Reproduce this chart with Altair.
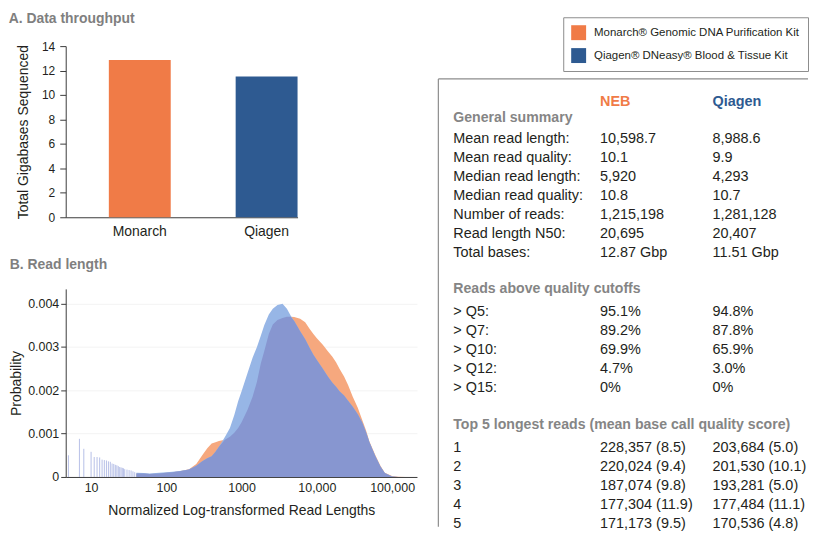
import altair as alt
import pandas as pd

FONT = "Liberation Sans"
ORANGE = "#F07B47"
NAVY = "#2E5A91"
H_ORANGE = "#F6A87E"
H_BLUE = "#97B6E6"
H_BOTH = "#8796D0"
SPIKE = "#8F9DDA"
GREY_TITLE = "#7F7F7F"
TEXT = "#231F20"
AXIS = "#3A3A3A"
FRAME = "#8C8C8C"

# ---------------- Panel A: data throughput ----------------
kits = ["Monarch", "Qiagen"]
gigabases = [12.87, 11.51]
kit_names = ["Monarch® Genomic DNA Purification Kit", "Qiagen® DNeasy® Blood & Tissue Kit"]

# ---------------- Panel B: read length histogram ----------------
read_length = [40, 50, 60, 80, 100, 120, 150, 200, 250, 300, 350, 400, 450, 500, 600, 700,
               800, 900, 1000, 1200, 1400, 1600, 1800, 2000, 2300, 2600, 3000, 3500, 4000,
               4500, 5000, 6000, 7000, 8000, 9000, 10000, 12000, 14000, 16000, 18000, 20000,
               23000, 26000, 30000, 35000, 40000, 45000, 50000, 60000, 70000, 80000, 100000,
               120000, 150000, 200000]
prob_neb = [0.00008, 0.00008, 0.00007, 0.00008, 0.00010, 0.00011, 0.00013, 0.00018, 0.00030,
            0.00050, 0.00066, 0.00077, 0.00080, 0.00083, 0.00086, 0.00093, 0.00102, 0.00113,
            0.00126, 0.00155, 0.00185, 0.00220, 0.00262, 0.00290, 0.00330, 0.00352, 0.00362,
            0.00367, 0.00370, 0.00370, 0.00369, 0.00365, 0.00357, 0.00342, 0.00330, 0.00320,
            0.00305, 0.00290, 0.00278, 0.00265, 0.00250, 0.00232, 0.00212, 0.00185, 0.00160,
            0.00132, 0.00108, 0.00082, 0.00050, 0.00026, 0.00010, 0.00002, 0.000005, 0.0, 0.0]
prob_qiagen = [0.00010, 0.00009, 0.00008, 0.00010, 0.00011, 0.00012, 0.00014, 0.00017, 0.00026,
               0.00036, 0.00043, 0.00048, 0.00058, 0.00070, 0.00092, 0.00113, 0.00143, 0.00175,
               0.00198, 0.00240, 0.00275, 0.00300, 0.00326, 0.00350, 0.00375, 0.00388, 0.00397,
               0.00400, 0.00388, 0.00372, 0.00360, 0.00336, 0.00318, 0.00298, 0.00282, 0.00270,
               0.00250, 0.00232, 0.00218, 0.00208, 0.00198, 0.00188, 0.00176, 0.00162, 0.00145,
               0.00126, 0.00104, 0.00080, 0.00048, 0.00024, 0.00009, 0.00001, 0.0, 0.0, 0.0]
short_read_length = [5, 7, 8, 10, 11, 12, 13, 14, 15, 16, 17, 18, 19, 20, 21, 22, 23, 24, 25,
                     26, 27, 28, 30, 32, 34, 36, 38]
short_read_prob = [0.00050, 0.00088, 0.00065, 0.00058, 0.00046, 0.00046, 0.00045, 0.00040,
                   0.00039, 0.00038, 0.00036, 0.00035, 0.00031, 0.00030, 0.00028, 0.00027,
                   0.00025, 0.00023, 0.00022, 0.00021, 0.00020, 0.00018, 0.00017, 0.00016,
                   0.00015, 0.00013, 0.00011]

# ---------------- Summary table ----------------
table_headers = ["NEB", "Qiagen"]
summary_title = "General summary"
summary_rows = ["Mean read length:", "Mean read quality:", "Median read length:",
                "Median read quality:", "Number of reads:", "Read length N50:", "Total bases:"]
summary_neb = ["10,598.7", "10.1", "5,920", "10.8", "1,215,198", "20,695", "12.87 Gbp"]
summary_qiagen = ["8,988.6", "9.9", "4,293", "10.7", "1,281,128", "20,407", "11.51 Gbp"]
quality_title = "Reads above quality cutoffs"
quality_rows = ["> Q5:", "> Q7:", "> Q10:", "> Q12:", "> Q15:"]
quality_neb = ["95.1%", "89.2%", "69.9%", "4.7%", "0%"]
quality_qiagen = ["94.8%", "87.8%", "65.9%", "3.0%", "0%"]
longest_title = "Top 5 longest reads (mean base call quality score)"
longest_rows = ["1", "2", "3", "4", "5"]
longest_neb = ["228,357 (8.5)", "220,024 (9.4)", "187,074 (9.8)", "177,304 (11.9)", "171,173 (9.5)"]
longest_qiagen = ["203,684 (5.0)", "201,530 (10.1)", "193,281 (5.0)", "177,484 (11.1)", "170,536 (4.8)"]

# ================= Panel A =================
dfA = pd.DataFrame({"kit": kits, "gb": gigabases})
chartA = alt.Chart(dfA).mark_bar().encode(
    x=alt.X("kit:N", sort=kits,
            scale=alt.Scale(paddingInner=0.512, paddingOuter=0.17, align=1),
            axis=alt.Axis(title=None, labelAngle=0, ticks=False, labelPadding=7,
                          labelFontSize=14)),
    y=alt.Y("gb:Q", scale=alt.Scale(domain=[0, 14], nice=False),
            axis=alt.Axis(title="Total Gigabases Sequenced", values=list(range(0, 15, 2)),
                          grid=False, tickSize=6, labelPadding=5, titlePadding=11,
                          labelFontSize=12, titleFontSize=14)),
    color=alt.Color("kit:N", scale=alt.Scale(domain=kits, range=[ORANGE, NAVY]), legend=None),
).properties(width=233, height=172,
             title=alt.TitleParams("A. Data throughput", anchor="start", offset=14, dx=-8))

# ================= Panel B =================
dfB = pd.DataFrame({"len": read_length, "neb": prob_neb, "qiagen": prob_qiagen})
dfS = pd.DataFrame({"len": short_read_length, "p": short_read_prob})

x_scale = alt.Scale(type="log", domain=[4.6, 214000], nice=False)
x_axis = alt.Axis(title="Normalized Log-transformed Read Lengths",
                  values=[10, 100, 1000, 10000, 100000],
                  labelExpr="datum.value >= 10000 ? format(datum.value, ',') : format(datum.value, 'd')",
                  ticks=False, grid=False, labelPadding=5, titlePadding=9,
                  labelFontSize=12.5, titleFontSize=14)
y_scale = alt.Scale(domain=[0, 0.00434], nice=False)
y_axis = alt.Axis(title="Probability", values=[0, 0.001, 0.002, 0.003, 0.004],
                  labelExpr="datum.value == 0 ? '0' : format(datum.value, '.3f')",
                  tickSize=5, labelPadding=2, titlePadding=4, grid=True, gridColor="#F3F3F3",
                  labelFontSize=12.5, titleFontSize=14)


def xe():
    return alt.X("len:Q", scale=x_scale, axis=x_axis)


def ye(field):
    return alt.Y(f"{field}:Q", scale=y_scale, axis=y_axis)


area_neb = alt.Chart(dfB).mark_area(color=H_ORANGE, opacity=1).encode(x=xe(), y=ye("neb"))
area_q = alt.Chart(dfB).mark_area(color=H_BLUE, opacity=1).encode(x=xe(), y=ye("qiagen"))
area_both = alt.Chart(dfB).transform_calculate(
    both="min(datum.neb, datum.qiagen)"
).mark_area(color=H_BOTH, opacity=1).encode(x=xe(), y=ye("both"))
spikes = alt.Chart(dfS).mark_rule(color=SPIKE, opacity=0.65, strokeWidth=1).encode(
    x=xe(), y=ye("p"), y2=alt.datum(0))

chartB = alt.layer(area_neb, area_q, area_both, spikes).properties(
    width=353, height=189,
    title=alt.TitleParams("B. Read length", anchor="start", offset=17))

left = alt.vconcat(chartA, chartB, spacing=20)

# ================= Right panel: legend + table =================
# the panel's origin lines up with panel A's plot area; coordinates below are page pixels
PANEL_LEFT = 437
PANEL_W = 372          # keep the whole page within the 817px window
PANEL_TOP = 45
PANEL_H = 483
COL_X = {"label": 452.5, "neb": 600, "qiagen": 713}
ROW = 19.05

rows = []
for title, title_y, first_y, labels, neb, qia in [
    (summary_title, 117.3, 138.5, summary_rows, summary_neb, summary_qiagen),
    (quality_title, 289.0, 312.5, quality_rows, quality_neb, quality_qiagen),
    (longest_title, 425.5, 449.0, longest_rows, longest_neb, longest_qiagen),
]:
    rows.append({"x": COL_X["label"], "y": title_y, "text": title, "kind": "section"})
    for i, (lab, a, b) in enumerate(zip(labels, neb, qia)):
        y = first_y + ROW * i
        rows.append({"x": COL_X["label"], "y": y, "text": lab, "kind": "cell"})
        rows.append({"x": COL_X["neb"], "y": y, "text": a, "kind": "cell"})
        rows.append({"x": COL_X["qiagen"], "y": y, "text": b, "kind": "cell"})
dfT = pd.DataFrame(rows)
dfH = pd.DataFrame({"kit": kit_names, "text": table_headers,
                    "x": [COL_X["neb"], COL_X["qiagen"]], "y": [100.7, 100.7]})

rx = alt.Scale(domain=[PANEL_LEFT, PANEL_LEFT + PANEL_W], nice=False, zero=False)
ry = alt.Scale(domain=[PANEL_TOP, PANEL_TOP + PANEL_H], nice=False, zero=False, reverse=True)
kit_color = alt.Scale(domain=kit_names, range=[ORANGE, NAVY])


def rX(f="x"):
    return alt.X(f"{f}:Q", scale=rx, axis=None)


def rY(f="y"):
    return alt.Y(f"{f}:Q", scale=ry, axis=None)


cells = alt.Chart(dfT).transform_filter(alt.datum.kind == "cell").mark_text(
    align="left", baseline="middle", font=FONT, fontSize=14.5, color=TEXT
).encode(x=rX(), y=rY(), text="text:N")
sections = alt.Chart(dfT).transform_filter(alt.datum.kind == "section").mark_text(
    align="left", baseline="middle", font=FONT, fontSize=14.2, fontWeight="bold", color="#858585"
).encode(x=rX(), y=rY(), text="text:N")
headers = alt.Chart(dfH).mark_text(
    align="left", baseline="middle", font=FONT, fontSize=14.5, fontWeight="bold"
).encode(
    x=rX(), y=rY(), text="text:N",
    color=alt.Color("kit:N", scale=kit_color, legend=None),
)
legend_layer = alt.Chart(dfH).mark_square(size=0, opacity=0).encode(
    x=rX(), y=rY(),
    fill=alt.Fill("kit:N", scale=kit_color,
                  legend=alt.Legend(title=None, orient="none", legendX=500, legendY=-29,
                                    direction="vertical", symbolType="square", symbolSize=225,
                                    symbolStrokeWidth=0, symbolOpacity=1, labelFont=FONT,
                                    labelFontSize=11.5, labelColor=TEXT, labelLimit=400,
                                    labelOffset=8, strokeColor=FRAME, fillColor="white",
                                    padding=8, rowPadding=8)),
)
frame_df = pd.DataFrame({"x": [PANEL_LEFT + 0.5], "x2": [PANEL_LEFT + PANEL_W],
                         "y": [78.0], "y2": [PANEL_TOP + PANEL_H]})
frame_top = alt.Chart(frame_df).mark_rule(color=FRAME, strokeWidth=1.2).encode(
    x=rX("x"), x2="x2:Q", y=rY("y"))
frame_left = alt.Chart(frame_df).mark_rule(color=FRAME, strokeWidth=1.2).encode(
    x=rX("x"), y=rY("y"), y2="y2:Q")

right = alt.layer(frame_top, frame_left, sections, cells, headers, legend_layer).properties(
    width=PANEL_W, height=PANEL_H)

chart = alt.hconcat(left, right, spacing=20).properties(
    padding={"left": 0, "top": 3, "right": 0, "bottom": 0}
).configure_view(stroke=None).configure_axis(
    labelFont=FONT, titleFont=FONT, labelColor=TEXT, titleColor=TEXT,
    domainColor=AXIS, tickColor=AXIS, titleFontWeight="normal"
).configure_title(font=FONT, fontSize=14, fontWeight="bold", color=GREY_TITLE)

chart.save("out.html", embed_options={"renderer": "svg", "actions": False})
